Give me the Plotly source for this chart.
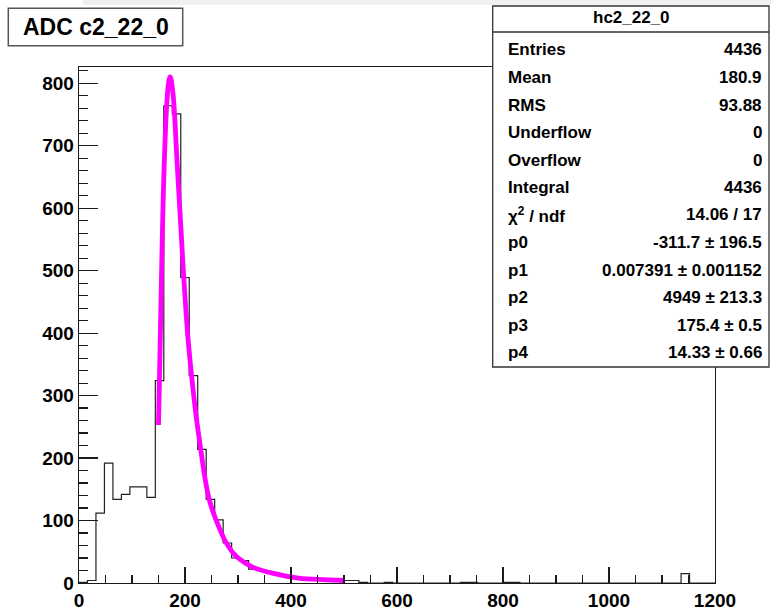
import plotly.graph_objects as go

# ---------------- data ----------------
bin_width = 16
counts = [1, 4, 112, 192, 134, 142, 154, 154, 137, 324,
          764, 751, 489, 332, 214, 134, 101, 64, 40, 36,
          22, 20, 18, 13, 11, 9, 8, 6, 6, 5,
          4, 4, 4, 1, 0, 0, 1, 0, 0, 0,
          0, 0, 0, 0, 0, 1, 1, 0, 0, 0,
          1, 1, 0, 0, 0, 0, 0, 0, 0, 0,
          0, 0, 0, 0, 0, 0, 0, 0, 0, 0,
          0, 15, 0, 0, 0]

fit_x = [150, 152, 154, 156, 158, 160, 162, 164, 166, 168, 170, 171.7, 173.5,
         175, 178, 181, 184, 188, 192.5, 196, 200, 205, 210, 214.5, 220.8,
         229.6, 237.7, 245.9, 258.5, 278.6, 297.5, 325.8, 366.6, 417, 460, 500]
fit_y = [253, 335, 420, 505, 585, 650, 700, 742, 772, 793, 806, 810, 807,
         800, 778, 740, 690, 630, 565, 512, 458, 398, 352, 315, 268,
         214, 168, 133, 101, 63, 42, 26, 15.5, 7.5, 5.5, 4]

x_tick_vals = [0, 200, 400, 600, 800, 1000, 1200]
y_tick_vals = [0, 100, 200, 300, 400, 500, 600, 700, 800]

title_text = "ADC c2_22_0"
stats_title = "hc2_22_0"
stats_labels = ["Entries", "Mean", "RMS", "Underflow", "Overflow", "Integral",
                "χ<sup>2</sup> / ndf", "p0", "p1", "p2", "p3", "p4"]
stats_values = ["4436", "180.9", "93.88", "0", "0", "4436", "14.06 / 17",
                "-311.7 ± 196.5", "0.007391 ± 0.001152", "4949 ± 213.3",
                "175.4 ± 0.5", "14.33 ± 0.66"]

# ---------------- construction ----------------
edges = [i * bin_width for i in range(len(counts) + 1)]
step_y = counts + [counts[-1]]

W, H = 771, 609
L, R, T, B = 79, 715, 67, 583


def px(x):
    return (x - L) / (R - L)


def py(y):
    return (B - y) / (B - T)


FONT = "Liberation Sans, Arial, Helvetica, sans-serif"
INK = "#1a1a1a"

fig = go.Figure()
fig.add_trace(go.Scatter(x=edges, y=step_y, mode="lines",
                         line=dict(shape="hv", color="#222222", width=1.2),
                         hoverinfo="skip"))
fig.add_trace(go.Scatter(x=fit_x, y=fit_y, mode="lines",
                         line=dict(shape="spline", smoothing=0.6,
                                   color="#FF00FF", width=4.8),
                         hoverinfo="skip"))

axis_common = dict(showgrid=False, zeroline=False, showline=True,
                   linecolor=INK, linewidth=1.3, mirror=True,
                   ticks="inside", tickcolor=INK, tickwidth=1.2,
                   tickfont=dict(family=FONT, size=19, color="black", weight="bold"),
                   automargin=False)

fig.update_layout(
    width=W, height=H,
    margin=dict(l=L, r=W - R, t=T, b=H - B),
    paper_bgcolor="white", plot_bgcolor="white",
    showlegend=False,
    xaxis=dict(range=[0, 1200], tickvals=x_tick_vals, ticklen=16,
               minor=dict(ticks="inside", ticklen=8, dtick=50, tick0=0,
                          tickcolor=INK, tickwidth=1.2, showgrid=False),
               **axis_common),
    yaxis=dict(range=[0, 826], tickvals=y_tick_vals, ticklen=19,
               minor=dict(ticks="inside", ticklen=9, dtick=20, tick0=0,
                          tickcolor=INK, tickwidth=1.2, showgrid=False),
               **axis_common),
)

shapes = []
# light strip at the very top
shapes.append(dict(type="rect", xref="paper", yref="paper", layer="above",
                   x0=px(83), x1=px(771), y0=py(0), y1=py(5),
                   fillcolor="#f0f0f0", line=dict(width=0)))
# title box
shapes.append(dict(type="rect", xref="paper", yref="paper", layer="above",
                   x0=px(8.3), x1=px(182.7), y0=py(45.7), y1=py(8.3),
                   fillcolor="white", line=dict(color="#555555", width=1.5)))
# stats box
shapes.append(dict(type="rect", xref="paper", yref="paper", layer="above",
                   x0=px(492.7), x1=px(769), y0=py(367), y1=py(6),
                   fillcolor="white", line=dict(color="#333333", width=1.3)))
shapes.append(dict(type="line", xref="paper", yref="paper", layer="above",
                   x0=px(492.7), x1=px(769), y0=py(32), y1=py(32),
                   line=dict(color="#333333", width=1.3)))
fig.update_layout(shapes=shapes)

ann = []
ann.append(dict(xref="paper", yref="paper", x=px(95.5), y=py(27),
                xanchor="center", yanchor="middle", showarrow=False,
                text="<b>" + title_text + "</b>",
                font=dict(family=FONT, size=23, color="black")))
ann.append(dict(xref="paper", yref="paper", x=px(631), y=py(17),
                xanchor="center", yanchor="middle", showarrow=False,
                text="<b>" + stats_title + "</b>",
                font=dict(family=FONT, size=17, color="black")))
for i, (lab, val) in enumerate(zip(stats_labels, stats_values)):
    yc = 50 + 27.5 * i
    ann.append(dict(xref="paper", yref="paper", x=px(506), y=py(yc),
                    xanchor="left", yanchor="middle", showarrow=False,
                    text="<b>" + lab + "</b>",
                    font=dict(family=FONT, size=17, color="black")))
    ann.append(dict(xref="paper", yref="paper", x=px(764), y=py(yc),
                    xanchor="right", yanchor="middle", showarrow=False,
                    text="<b>" + val + "</b>",
                    font=dict(family=FONT, size=17, color="black")))
fig.update_layout(annotations=ann)

fig.write_html("out.html",
               config={"displayModeBar": False, "staticPlot": True},
               post_script="document.body.style.margin='0';"
                           "document.body.style.padding='0';"
                           "document.body.style.overflow='hidden';")
